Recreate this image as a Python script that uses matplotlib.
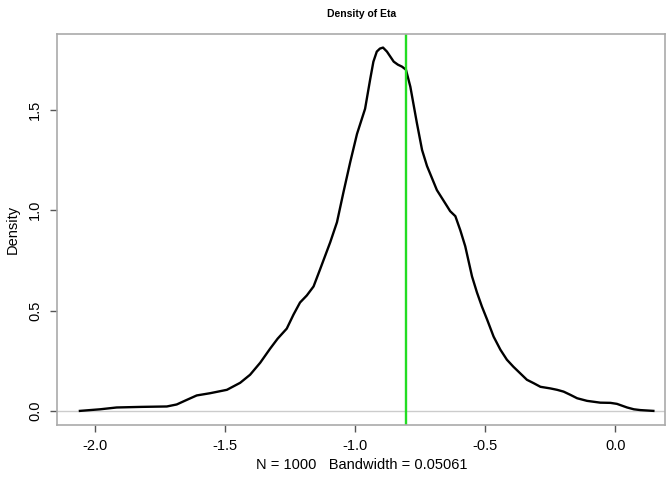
import matplotlib
matplotlib.use("Agg")
import matplotlib.pyplot as plt

plt.rcParams['font.family'] = ['Liberation Sans', 'DejaVu Sans']

# density curve
eta = [-2.058, -1.98, -1.917, -1.82, -1.724, -1.686, -1.647, -1.609, -1.558, -1.493,
       -1.442, -1.404, -1.365, -1.327, -1.298, -1.263, -1.237, -1.212, -1.186, -1.160,
       -1.135, -1.096, -1.070, -1.045, -1.019, -0.993, -0.962, -0.942, -0.930, -0.917,
       -0.905, -0.893, -0.878, -0.865, -0.852, -0.836, -0.820, -0.805, -0.788, -0.763,
       -0.743, -0.724, -0.686, -0.647, -0.635, -0.615, -0.596, -0.577, -0.551, -0.532,
       -0.513, -0.493, -0.468, -0.442, -0.417, -0.392, -0.340, -0.314, -0.288, -0.250,
       -0.224, -0.199, -0.173, -0.147, -0.109, -0.058, -0.019, 0.006, 0.045, 0.071,
       0.096, 0.146]
dens = [0.0, 0.008, 0.017, 0.02, 0.022, 0.032, 0.055, 0.077, 0.088, 0.105,
        0.14, 0.18, 0.24, 0.31, 0.36, 0.41, 0.48, 0.54, 0.575, 0.62,
        0.705, 0.84, 0.94, 1.09, 1.24, 1.38, 1.505, 1.655, 1.74, 1.79,
        1.805, 1.81, 1.79, 1.765, 1.74, 1.725, 1.715, 1.70, 1.615, 1.435,
        1.30, 1.22, 1.10, 1.02, 0.995, 0.97, 0.90, 0.82, 0.67, 0.59,
        0.52, 0.455, 0.37, 0.305, 0.255, 0.22, 0.155, 0.138, 0.12, 0.112,
        0.105, 0.096, 0.08, 0.063, 0.05, 0.041, 0.04, 0.035, 0.017, 0.008,
        0.004, 0.0]
eta_mean = -0.805
xticks = [-2.0, -1.5, -1.0, -0.5, 0.0]
yticks = [0.0, 0.5, 1.0, 1.5]

fig = plt.figure(figsize=(6.66, 4.78), dpi=100)
ax = fig.add_axes([0.086, 0.111, 0.913, 0.818])

ax.axhline(0, color="#cccccc", linewidth=1)
ax.plot(eta, dens, color="black", linewidth=1.7, solid_joinstyle="round")
ax.axvline(eta_mean, color="#22dd22", linewidth=1.7)

ax.set_xlim(-2.145, 0.192)
ax.set_ylim(-0.07, 1.878)
ax.set_xticks(xticks)
ax.set_xticklabels(["%.1f" % v for v in xticks])
ax.set_yticks(yticks)
ax.set_yticklabels(["%.1f" % v for v in yticks], rotation=90, va="center")

for s in ax.spines.values():
    s.set_color("#aaaaaa")
    s.set_linewidth(1.2)
ax.tick_params(colors="#555555", labelcolor="black", labelsize=10.5, length=5, width=1)
ax.tick_params(axis="x", pad=5)
ax.tick_params(axis="y", pad=6)

ax.set_xlabel("N = 1000   Bandwidth = 0.05061", fontsize=10.5, labelpad=4)
ax.set_ylabel("Density", fontsize=10.5, labelpad=6)
ax.set_title("Density of Eta", fontsize=7.5, fontweight="bold", pad=12)

fig.savefig("out.png", dpi=100)
